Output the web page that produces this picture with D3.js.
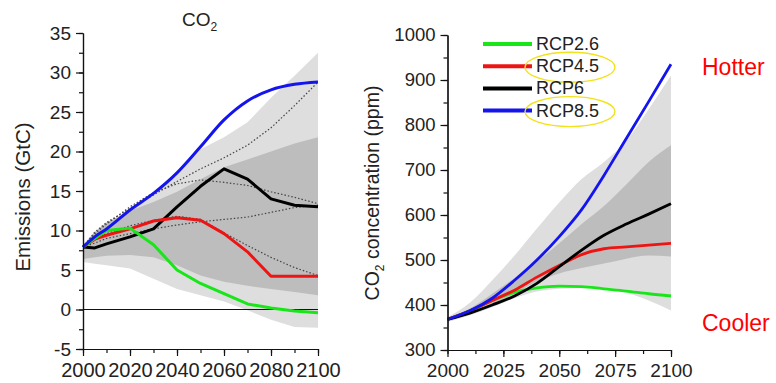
<!DOCTYPE html>
<html>
<head>
<meta charset="utf-8">
<script src="https://cdn.jsdelivr.net/npm/d3@7"></script>
<style>
  body { margin: 0; background: #fff; }
  svg text { font-family: "Liberation Sans", Arial, Helvetica, sans-serif; fill: #222; }
</style>
</head>
<body>
<svg id="chart" width="776" height="383"></svg>
<script>
// ---- emissions panel (GtC) ----
const emYears = [2000, 2005, 2010, 2020, 2030, 2040, 2050, 2060, 2070, 2080, 2090, 2100]
const emRcp26 = [7.9, 9.0, 10.0, 10.3, 8.2, 5.0, 3.3, 2.0, 0.7, 0.2, -0.2, -0.4]
const emRcp45 = [7.9, 8.9, 9.4, 10.2, 11.2, 11.6, 11.3, 9.6, 7.3, 4.2, 4.2, 4.2]
const emRcp6  = [7.9, 7.8, 8.3, 9.2, 10.2, 13.0, 15.6, 17.8, 16.5, 14.0, 13.2, 13.0]
const emRcp85 = [7.9, 9.2, 10.2, 12.6, 14.7, 17.3, 20.6, 24.0, 26.4, 27.8, 28.5, 28.8]
// dotted reference scenarios
const emDot1 = [7.9, 9.8, 11.0, 12.8, 14.5, 16.2, 17.8, 19.2, 20.8, 23.0, 25.8, 28.8]
const emDot2 = [7.9, 9.6, 10.8, 13.0, 14.8, 15.9, 16.4, 16.1, 15.7, 14.9, 14.2, 13.4]
const emDot3 = [7.9, 8.8, 9.6, 10.6, 11.3, 11.8, 11.4, 9.7, 8.1, 6.6, 5.3, 4.3]
const emDot4 = [7.9, 8.4, 9.0, 9.6, 10.2, 10.7, 11.1, 11.4, 11.7, 12.3, 12.9, 13.2]
// ranges
const emLightHi = [8.0, 9.5, 10.5, 12.5, 14.5, 17.0, 20.3, 21.8, 23.7, 26.8, 29.6, 32.5]
const emLightLo = [6.0, 5.8, 5.6, 5.2, 3.9, 2.6, 1.8, 1.0, -0.1, -1.3, -2.2, -2.3]
const emDarkHi  = [8.2, 9.8, 11.0, 12.5, 13.6, 14.9, 16.5, 18.0, 19.0, 20.0, 21.0, 21.8]
const emDarkLo  = [6.4, 6.6, 6.8, 6.9, 6.6, 5.6, 4.3, 3.5, 3.0, 2.6, 2.2, 1.8]
const emYTicks = [-5, 0, 5, 10, 15, 20, 25, 30, 35]
const emXTicks = [2000, 2020, 2040, 2060, 2080, 2100]

// ---- concentration panel (ppm) ----
const ccYears = [2000, 2010, 2020, 2030, 2040, 2050, 2060, 2070, 2080, 2090, 2100]
const ccRcp26 = [368, 387, 410, 428, 438, 442, 441, 436, 431, 425, 420]
const ccRcp45 = [368, 387, 410, 433, 462, 488, 512, 525, 529, 533, 537]
const ccRcp6  = [368, 382, 400, 420, 448, 485, 522, 555, 580, 602, 625]
const ccRcp85 = [368, 387, 415, 455, 500, 552, 612, 688, 770, 852, 935]
const ccLightHi = [373, 405, 455, 510, 570, 628, 680, 718, 765, 835, 910]
const ccLightLo = [362, 377, 395, 415, 430, 436, 438, 436, 428, 410, 388]
const ccDarkHi  = [371, 392, 425, 460, 497, 537, 580, 620, 668, 718, 755]
const ccDarkLo  = [365, 380, 400, 425, 452, 470, 482, 492, 503, 510, 508]
const ccYTicks = [300, 400, 500, 600, 700, 800, 900, 1000]
const ccXTicks = [2000, 2025, 2050, 2075, 2100]

const legendNames = ["RCP2.6", "RCP4.5", "RCP6", "RCP8.5"]
const lineColors = ["#19e619", "#ee1414", "#000000", "#1414ee"]
const circled = ["RCP4.5", "RCP8.5"]

const svg = d3.select("#chart")
const lightGray = "#dedede", darkGray = "#bdbdbd"
const plainNum = d => String(d)   // keep "-5" with a hyphen, no thousands comma

function zipRows(years, a, b) {
    return years.map((y, i) => ({ x: y, a: a[i], b: b ? b[i] : null }))
}

function drawAxes(g, x, y, xMajor, xMinor, yMajor, yMinor, xFont, yFont) {
    const x0 = x.range()[0], yb = y.range()[0]
    g.append("g").attr("transform", "translate(0," + yb + ")")
        .call(d3.axisBottom(x).tickValues(xMinor).tickSize(4).tickFormat("").tickSizeOuter(0))
    g.append("g").attr("transform", "translate(0," + yb + ")")
        .call(d3.axisBottom(x).tickValues(xMajor).tickSize(7).tickPadding(7).tickFormat(plainNum).tickSizeOuter(0))
        .selectAll("text").style("font-size", xFont + "px")
    g.append("g").attr("transform", "translate(" + x0 + ",0)")
        .call(d3.axisLeft(y).tickValues(yMinor).tickSize(4).tickFormat("").tickSizeOuter(0))
    g.append("g").attr("transform", "translate(" + x0 + ",0)")
        .call(d3.axisLeft(y).tickValues(yMajor).tickSize(7).tickPadding(5).tickFormat(plainNum).tickSizeOuter(0))
        .selectAll("text").style("font-size", yFont + "px")
    g.selectAll(".domain").attr("stroke", "#111").attr("stroke-width", 1.2)
    g.selectAll(".tick line").attr("stroke", "#111").attr("stroke-width", 1.2)
    g.selectAll(".tick text").attr("fill", "#222")
}

// ================= left: emissions =================
const xE = d3.scaleLinear().domain([2000, 2100]).range([83, 318])
const yE = d3.scaleLinear().domain([-5, 35]).range([349, 33])
const left = svg.append("g")

const areaE = d3.area().x(d => xE(d.x)).y0(d => yE(d.a)).y1(d => yE(d.b))
left.append("path").datum(zipRows(emYears, emLightLo, emLightHi)).attr("d", areaE).attr("fill", lightGray)
left.append("path").datum(zipRows(emYears, emDarkLo, emDarkHi)).attr("d", areaE).attr("fill", darkGray)

const lineE = d3.line().x(d => xE(d.x)).y(d => yE(d.a))
;[emDot1, emDot2, emDot3, emDot4].forEach(function (s) {
    left.append("path").datum(zipRows(emYears, s)).attr("d", lineE)
        .attr("fill", "none").attr("stroke", "#444").attr("stroke-width", 1.2)
        .attr("stroke-dasharray", "1.5,2")
})

left.append("line")
    .attr("x1", xE(2000)).attr("x2", xE(2100))
    .attr("y1", yE(0)).attr("y2", yE(0))
    .attr("stroke", "#111").attr("stroke-width", 1.2)

const emSeries = [emRcp6, emRcp45, emRcp26, emRcp85]
const emColors = [lineColors[2], lineColors[1], lineColors[0], lineColors[3]]
emSeries.forEach(function (s, i) {
    left.append("path").datum(zipRows(emYears, s))
        .attr("d", i == 3 ? lineE.curve(d3.curveMonotoneX) : lineE.curve(d3.curveLinear))
        .attr("fill", "none").attr("stroke", emColors[i]).attr("stroke-width", 3)
        .attr("stroke-linejoin", "round")
})

drawAxes(left, xE, yE, emXTicks, d3.range(2000, 2101, 10),
    emYTicks, d3.range(-5, 35.1, 2.5), 20, 19)

const ttl = left.append("text").attr("x", 182).attr("y", 26).style("font-size", "19px")
ttl.append("tspan").text("CO")
ttl.append("tspan").text("2").attr("dy", 5).style("font-size", "12px")

left.append("text")
    .attr("transform", "translate(30,197) rotate(-90)")
    .attr("text-anchor", "middle")
    .style("font-size", "20.5px")
    .text("Emissions (GtC)")

// ================= right: concentration =================
const xC = d3.scaleLinear().domain([2000, 2100]).range([447.5, 671])
const yC = d3.scaleLinear().domain([300, 1000]).range([350, 35])
const right = svg.append("g")

const areaC = d3.area().x(d => xC(d.x)).y0(d => yC(d.a)).y1(d => yC(d.b)).curve(d3.curveMonotoneX)
right.append("path").datum(zipRows(ccYears, ccLightLo, ccLightHi)).attr("d", areaC).attr("fill", lightGray)
right.append("path").datum(zipRows(ccYears, ccDarkLo, ccDarkHi)).attr("d", areaC).attr("fill", darkGray)

const lineC = d3.line().x(d => xC(d.x)).y(d => yC(d.a)).curve(d3.curveMonotoneX)
;[ccRcp26, ccRcp45, ccRcp6, ccRcp85].forEach(function (s, i) {
    right.append("path").datum(zipRows(ccYears, s)).attr("d", lineC)
        .attr("fill", "none").attr("stroke", lineColors[i]).attr("stroke-width", 2.8)
})

drawAxes(right, xC, yC, ccXTicks, d3.range(2000, 2101, 12.5),
    ccYTicks, d3.range(300, 1001, 50), 19, 18.5)

const yl = right.append("text")
    .attr("transform", "translate(379,193) rotate(-90)")
    .attr("text-anchor", "middle")
    .style("font-size", "19.5px")
yl.append("tspan").text("CO")
yl.append("tspan").text("2").attr("dy", 5).style("font-size", "12px")
yl.append("tspan").text(" concentration (ppm)").attr("dy", -5)

// legend
const legend = right.append("g")
legendNames.forEach(function (name, i) {
    const ly = 44 + i * 22.2
    legend.append("line")
        .attr("x1", 483).attr("x2", 532).attr("y1", ly).attr("y2", ly)
        .attr("stroke", lineColors[i]).attr("stroke-width", 4)
    legend.append("text").attr("x", 536).attr("y", ly + 6)
        .style("font-size", "18px").text(name)
    if (circled.indexOf(name) >= 0) {
        legend.append("ellipse")
            .attr("cx", 570).attr("cy", ly + 1).attr("rx", 45).attr("ry", 15)
            .attr("fill", "none").attr("stroke", "#f2e21c").attr("stroke-width", 1.4)
    }
})

svg.append("text").attr("x", 702).attr("y", 75).style("font-size", "23px")
    .style("fill", "#ff0000").text("Hotter")
svg.append("text").attr("x", 702).attr("y", 331).style("font-size", "23px")
    .style("fill", "#ff0000").text("Cooler")
</script>
</body>
</html>
